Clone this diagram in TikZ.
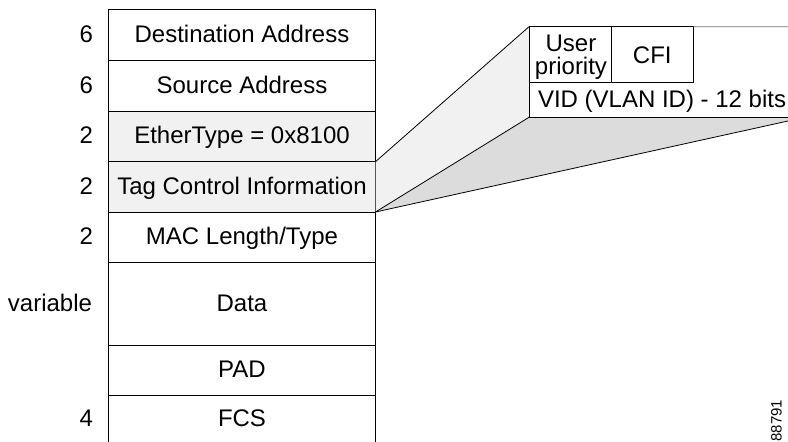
\documentclass[tikz,border=0pt]{standalone}
\usepackage{fontspec}
\setmainfont{Liberation Sans}
\definecolor{lightg}{HTML}{F1F1F1}
\definecolor{darkg}{HTML}{DCDCDC}
\begin{document}
\begin{tikzpicture}[x=1pt,y=-1pt,
  every node/.style={font=\fontsize{24}{23}\selectfont, inner sep=0pt, outer sep=0pt},
  frame/.style={draw=black, line width=0.9pt},
  row/.style={frame, minimum width=267pt, text height=17.3pt, text depth=2.7pt},
  shaded/.style={fill=lightg},
  lbl/.style={anchor=base east},
  fieldbox/.style={frame},
  edge/.style={draw=black, line width=0.8pt}
]
\useasboundingbox (0,0) rectangle (788,442);
% shaded projection
\coordinate (bt) at (529,26.7);
\coordinate (bb) at (529,117.3);
\coordinate (tr) at (788,26.7);
\coordinate (br) at (788,117.3);
\coordinate (far) at (788,121);
% rows
\node[row, minimum height=51pt] (dest) at (242,35) {Destination Address};
\node[row, minimum height=50.5pt] (src) at (242,85.75) {Source Address};
\node[row, shaded, minimum height=50.7pt] (eth) at (242,136.35) {EtherType = 0x8100};
\node[row, shaded, minimum height=50.3pt] (tag) at (242,186.85) {Tag Control Information};
\node[row, minimum height=50.7pt] (mac) at (242,237.35) {MAC Length/Type};
\node[row, minimum height=82.3pt] (data) at (242,303.85) {Data};
\node[row, minimum height=50pt] (pad) at (242,370) {PAD};
\node[row, draw=none, minimum height=48.8pt] (fcs) at (242,419.4) {FCS};
\draw[frame] (fcs.north west) -- (fcs.south west);
\draw[frame] (fcs.north east) -- (fcs.south east);
% labels
\node[lbl] (l1) at (93,42.3) {6};
\node[lbl] (l2) at (93,93) {6};
\node[lbl] (l3) at (93,143.6) {2};
\node[lbl] (l4) at (93,194.2) {2};
\node[lbl] (l5) at (93,244.6) {2};
\node[lbl] (l6) at (92,311.1) {variable};
\node[lbl] (l7) at (93,426.7) {4};
% projection fills
\fill[lightg] (tag.north east) -- (bt) -- (bb) -- (tag.south east) -- cycle;
\fill[darkg] (tag.south east) -- (bb) -- (br) -- (far) -- cycle;
\draw[edge] (tag.north east) -- (bt);
\draw[edge] (tag.south east) -- (bb);
\draw[edge] (tag.south east) -- (far);
% detail box
\node[fieldbox, minimum width=82pt, minimum height=55.3pt] (up) at (570,54.35) {};
\node[fieldbox, minimum width=82.3pt, minimum height=55.3pt] (cfi) at (652.15,54.35) {};
\node[align=center] (uptext) at (571,57.5) {User\\priority};
\node[anchor=base] (cfitext) at (652.3,63.5) {CFI};
\draw[frame] (bt) -- (bb) -- (br);
\draw[draw=black!55, line width=0.8pt] (cfi.north east) -- (tr);
\node[anchor=base west] (vid) at (538,107.3) {VID (VLAN ID) - 12 bits};
% figure number
\node[font=\fontsize{15}{15}\selectfont, rotate=90, anchor=base west] (fig) at (781.5,441.5) {88791};
\end{tikzpicture}
\end{document}
